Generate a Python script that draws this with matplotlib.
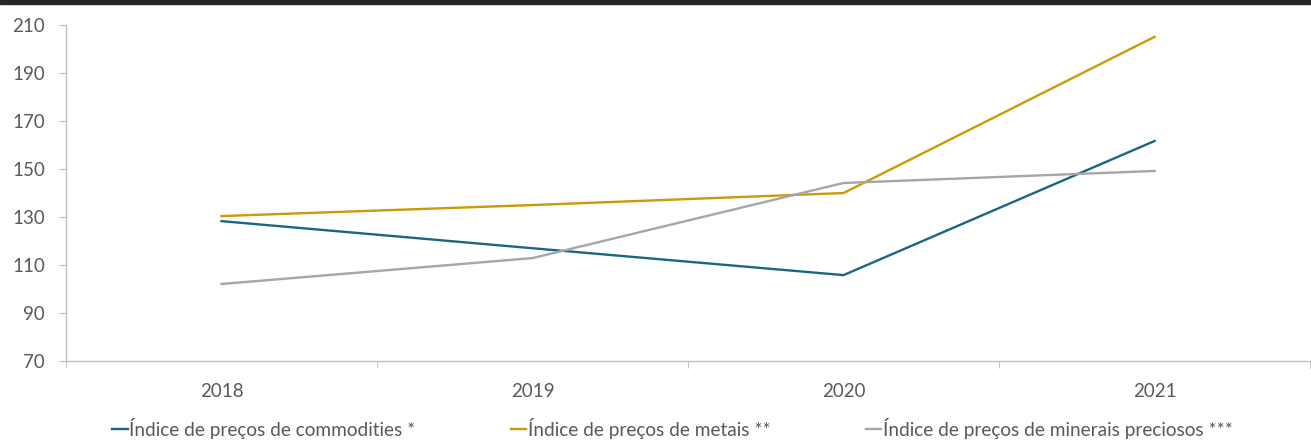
import matplotlib
matplotlib.use("Agg")
import matplotlib.pyplot as plt
from matplotlib.patches import Rectangle

anos = ["2018", "2019", "2020", "2021"]
commodities = [128.3, 117.0, 105.8, 161.7]
metais = [130.4, 135.0, 140.0, 205.1]
minerais = [102.1, 112.9, 144.2, 149.2]

labels = ["Índice de preços de commodities *",
          "Índice de preços de metais **",
          "Índice de preços de minerais preciosos ***"]
cores = ["#1b6584", "#cc9a06", "#a6a6a6"]

plt.rcParams['font.family'] = ['Lato', 'DejaVu Sans']
texto = "#595959"

fig = plt.figure(figsize=(13.11, 4.4), dpi=100)
ax = fig.add_axes([0.0503, 0.1795, 0.949, 0.7635])

x = range(len(anos))
for serie, lab, cor in zip([commodities, metais, minerais], labels, cores):
    ax.plot(x, serie, color=cor, linewidth=1.7, label=lab)

ax.set_xlim(-0.5, len(anos) - 0.5)
ax.set_ylim(70, 210)
ax.set_yticks(range(70, 211, 20))
ax.set_xticks(list(x))
ax.set_xticklabels(anos)
ax.set_xticks([i + 0.5 for i in range(-1, len(anos))], minor=True)

for s in ["top", "right"]:
    ax.spines[s].set_visible(False)
for s in ["left", "bottom"]:
    ax.spines[s].set_color("#bfbfbf")
    ax.spines[s].set_linewidth(1)

ax.tick_params(axis="x", which="major", length=0, pad=16, labelsize=13.5, labelcolor=texto)
ax.tick_params(axis="x", which="minor", length=5, color="#bfbfbf")
ax.tick_params(axis="y", length=5, color="#bfbfbf", labelsize=13.5, labelcolor=texto, pad=10)

leg = fig.legend(loc="lower center", bbox_to_anchor=(0.513, -0.037), ncol=3, frameon=False,
                 handlelength=0.8, handletextpad=0.1, columnspacing=5.0, fontsize=13.7)
for t in leg.get_texts():
    t.set_color(texto)

# faixa escura no topo
fig.patches.append(Rectangle((0, 0.992), 1, 0.008, transform=fig.transFigure,
                             color="#262626", zorder=10))

plt.savefig("out.png", dpi=100)
